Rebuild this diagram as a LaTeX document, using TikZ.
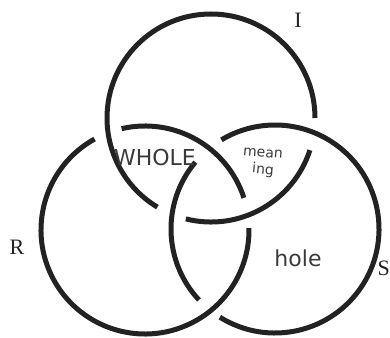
\documentclass[tikz,border=0pt]{standalone}
\usepackage{fontspec}
\setmainfont{Liberation Serif}
\newfontfamily\hand{DejaVu Sans}
\definecolor{ringcol}{HTML}{222222}
\definecolor{handcol}{HTML}{3A3A3A}
\begin{document}
\begin{tikzpicture}[x=1pt,y=1pt,
  ring/.style={line width=5pt, draw=ringcol},
  lbl/.style={font=\fontsize{22}{22}\selectfont, text=ringcol, inner sep=0pt},
  hw/.style={font=\hand, text=handcol, inner sep=0pt}]
\useasboundingbox (0,0) rectangle (390,337);
\coordinate (cI) at (211,219);
\coordinate (cR) at (145,107);
\coordinate (cS) at (275,108);
% ring I (passes under S)
\draw[ring] (cI) ++(0:104) arc[start angle=0,end angle=239,radius=104];
\draw[ring] (cI) ++(256:104) arc[start angle=256,end angle=342,radius=104];
% ring R (passes under I)
\draw[ring] (cR) ++(18:104) arc[start angle=18,end angle=103,radius=104];
\draw[ring] (cR) ++(119:104) arc[start angle=119,end angle=361,radius=104];
% ring S (passes under R)
\draw[ring] (cS) ++(140:104) arc[start angle=140,end angle=223,radius=104];
\draw[ring] (cS) ++(238:104) arc[start angle=238,end angle=481,radius=104];
% labels
\node[lbl] (lI) at (298,317) {I};
\node[lbl] (lR) at (17,90) {R};
\node[lbl, anchor=east] (lS) at (390,69) {S};
% handwritten words
\node[hw, font=\hand\fontsize{22}{22}\selectfont] (whole) at (155,180) {WHOLE};
\node[hw, font=\hand\fontsize{14}{14}\selectfont, rotate=-5] (mean) at (263,184) {mean};
\node[hw, font=\hand\fontsize{14}{14}\selectfont, rotate=-5] (ing) at (263,167) {ing};
\node[hw, font=\hand\fontsize{22}{22}\selectfont] (hole) at (298,79) {hole};
\end{tikzpicture}
\end{document}
